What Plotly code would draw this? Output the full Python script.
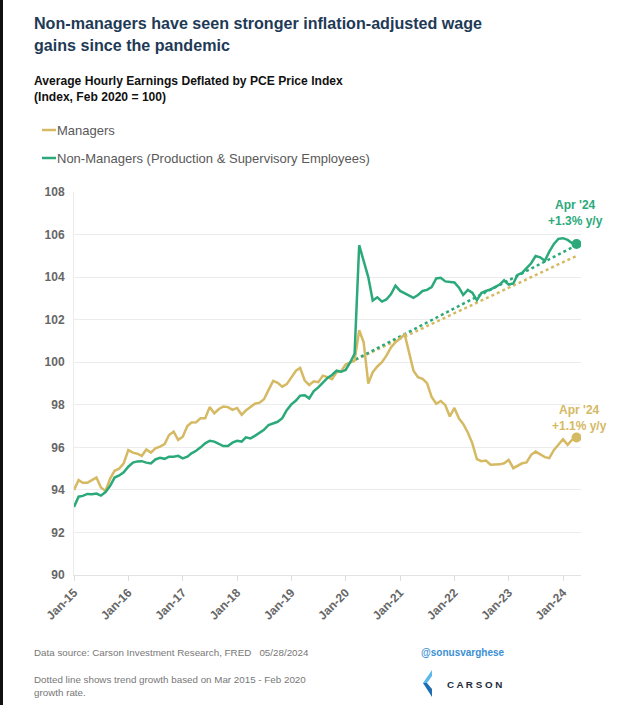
import pandas as pd
import plotly.graph_objects as go

# ---------------- data ----------------
start_month = "2015-01-01"
managers = [
    94.00, 94.46, 94.33, 94.33, 94.46, 94.58, 94.11, 93.95, 94.53, 94.90, 95.00, 95.25,
    95.87, 95.75, 95.70, 95.60, 95.90, 95.75, 95.95, 96.03, 96.15, 96.58, 96.74, 96.35,
    96.50, 97.00, 97.17, 97.18, 97.37, 97.37, 97.89, 97.60, 97.80, 97.92, 97.89, 97.76,
    97.85, 97.53, 97.73, 97.89, 98.05, 98.10, 98.26, 98.70, 99.12, 99.03, 98.85, 98.97,
    99.28, 99.60, 99.73, 99.14, 98.93, 99.10, 99.06, 99.37, 99.30, 99.20, 99.53, 99.58,
    99.89, 100.00, 100.08, 101.50, 100.94, 99.00, 99.53, 99.80, 100.00, 100.31, 100.70, 100.94,
    101.10, 101.30, 100.50, 99.60, 99.30, 99.22, 99.02, 98.37, 98.05, 98.18, 97.98, 97.45,
    97.85, 97.35, 97.10, 96.70, 96.20, 95.45, 95.35, 95.38, 95.18, 95.18, 95.20, 95.25,
    95.41, 95.02, 95.13, 95.25, 95.29, 95.65, 95.80, 95.65, 95.54, 95.49, 95.88, 96.12,
    96.38, 96.12, 96.35, 96.46,
]
non_managers = [
    93.20, 93.68, 93.72, 93.81, 93.80, 93.83, 93.73, 93.90, 94.19, 94.58, 94.68, 94.83,
    95.09, 95.28, 95.34, 95.35, 95.28, 95.24, 95.43, 95.51, 95.46, 95.56, 95.56, 95.60,
    95.48, 95.56, 95.72, 95.84, 96.00, 96.19, 96.31, 96.27, 96.16, 96.06, 96.06, 96.22,
    96.31, 96.27, 96.47, 96.42, 96.54, 96.69, 96.82, 97.05, 97.13, 97.20, 97.37, 97.75,
    98.02, 98.20, 98.43, 98.45, 98.30, 98.64, 98.82, 99.06, 99.26, 99.40, 99.60, 99.55,
    99.64, 100.00, 100.40, 105.50, 104.70, 104.00, 102.90, 103.05, 102.85, 102.95, 103.20, 103.60,
    103.35, 103.25, 103.15, 103.03, 103.16, 103.35, 103.40, 103.53, 103.94, 103.97, 103.80, 103.76,
    103.75, 103.50, 103.16, 103.40, 103.27, 102.92, 103.25, 103.35, 103.42, 103.53, 103.65, 103.85,
    103.65, 103.70, 104.10, 104.20, 104.40, 104.65, 104.99, 104.93, 104.77, 105.20, 105.56, 105.80,
    105.83, 105.75, 105.60, 105.56,
]
trend_dates = ["2020-02-01", "2024-04-01"]
trend_managers = [100.0, 105.0]
trend_non_managers = [100.0, 105.5]
y_ticks = [90, 92, 94, 96, 98, 100, 102, 104, 106, 108]
series_names = ["Managers", "Non-Managers (Production & Supervisory Employees)"]
end_labels = ["Apr '24<br>+1.1% y/y", "Apr '24<br>+1.3% y/y"]

dates = pd.date_range(start_month, periods=len(managers), freq="MS")

GOLD = "#D5B963"
GREEN = "#2BA97A"
GRAY_TXT = "#666666"
FONT = "Liberation Sans, Arial, sans-serif"

# plot area in pixels
L, R, T, B = 74, 581, 192, 575
W, H = R - L, B - T


def px(x):
    return (x - L) / W


def py(y):
    return (B - y) / H


fig = go.Figure()

# trend lines (dotted)
fig.add_trace(go.Scatter(x=trend_dates, y=trend_managers, mode="lines",
                         line=dict(color=GOLD, width=2.5, dash="dot"),
                         showlegend=False, hoverinfo="skip"))
fig.add_trace(go.Scatter(x=trend_dates, y=trend_non_managers, mode="lines",
                         line=dict(color=GREEN, width=2.5, dash="dot"),
                         showlegend=False, hoverinfo="skip"))

# main series
fig.add_trace(go.Scatter(x=dates, y=managers, mode="lines", name=series_names[0],
                         line=dict(color=GOLD, width=2.5), showlegend=False))
fig.add_trace(go.Scatter(x=dates, y=non_managers, mode="lines", name=series_names[1],
                         line=dict(color=GREEN, width=2.5), showlegend=False))

# end markers
fig.add_trace(go.Scatter(x=[dates[-1]], y=[managers[-1]], mode="markers",
                         marker=dict(color=GOLD, size=10), showlegend=False))
fig.add_trace(go.Scatter(x=[dates[-1]], y=[non_managers[-1]], mode="markers",
                         marker=dict(color=GREEN, size=10), showlegend=False))

annotations = []


def add_text(text, x, y, size, color, bold=False, xanchor="left", align="left"):
    annotations.append(dict(
        text=f"<b>{text}</b>" if bold else text,
        x=px(x), y=py(y), xref="paper", yref="paper",
        xanchor=xanchor, yanchor="middle", align=align, showarrow=False,
        font=dict(family=FONT, size=size, color=color)))


# titles
add_text("Non-managers have seen stronger inflation-adjusted wage", 32, 23, 16.1, "#1E3A56", bold=True)
add_text("gains since the pandemic", 32, 45, 16.1, "#1E3A56", bold=True)
add_text("Average Hourly Earnings Deflated by PCE Price Index", 32, 81, 12.1, "#111111", bold=True)
add_text("(Index, Feb 2020 = 100)", 32, 97, 12.1, "#111111", bold=True)

# legend (as text + line swatches)
add_text(series_names[0], 55, 130, 13, "#595959")
add_text(series_names[1], 55, 158, 13, "#595959")

# end labels
annotations.append(dict(text=f"<b>{end_labels[1]}</b>", x=dates[-1], y=107.0, xref="x", yref="y",
                        xanchor="center", yanchor="middle", showarrow=False, align="center",
                        xshift=-1,
                        font=dict(family=FONT, size=12, color=GREEN)))
annotations.append(dict(text=f"<b>{end_labels[0]}</b>", x=dates[-1], y=97.38, xref="x", yref="y",
                        xanchor="center", yanchor="middle", showarrow=False, align="center",
                        xshift=3,
                        font=dict(family=FONT, size=12, color=GOLD)))

# footer
add_text("Data source: Carson Investment Research, FRED   05/28/2024", 32, 652, 9.8, "#777777")
add_text("Dotted line shows trend growth based on Mar 2015 - Feb 2020", 32, 679, 9.8, "#777777")
add_text("growth rate.", 32, 692, 9.8, "#777777")
add_text("@sonusvarghese", 507, 652, 10, "#3B8FD4", bold=True, xanchor="right")
annotations.append(dict(text="<b>C A R S O N</b>", x=px(504), y=py(684), xref="paper", yref="paper",
                        xanchor="right", yanchor="middle", showarrow=False,
                        font=dict(family=FONT, size=9.8, color="#1E2A3A")))


# logo chevron, legend swatches and left border
def path_px(pts):
    return "M " + " L ".join(f"{px(a)},{py(b)}" for a, b in pts) + " Z"


shapes = [
    dict(type="path", xref="paper", yref="paper",
         path=path_px([(432, 670), (423, 683), (427, 683), (432, 676)]),
         fillcolor="#5DB8EA", line=dict(width=0)),
    dict(type="path", xref="paper", yref="paper",
         path=path_px([(423, 683), (432, 697), (432, 689), (427, 683)]),
         fillcolor="#1F6EB3", line=dict(width=0)),
    dict(type="rect", xref="paper", yref="paper", x0=px(0), x1=px(3), y0=py(0), y1=py(705),
         fillcolor="#111111", line=dict(width=0)),
    dict(type="line", xref="paper", yref="paper", x0=px(42), x1=px(56), y0=py(130), y1=py(130),
         line=dict(color=GOLD, width=2.5)),
    dict(type="line", xref="paper", yref="paper", x0=px(42), x1=px(56), y0=py(158), y1=py(158),
         line=dict(color=GREEN, width=2.5)),
]

fig.update_layout(
    width=640, height=705,
    margin=dict(l=L, r=640 - R, t=T, b=705 - B),
    paper_bgcolor="white", plot_bgcolor="white",
    showlegend=False,
    annotations=annotations,
    shapes=shapes,
    font=dict(family=FONT),
)
fig.update_xaxes(
    range=["2015-01-01", "2024-05-01"],
    tick0="2015-01-01", dtick="M12", tickformat="%b-%y",
    tickangle=-45, ticks="outside", ticklen=5, tickcolor="#dddddd",
    tickfont=dict(family=FONT, size=12, color=GRAY_TXT, weight="bold"),
    showgrid=False, showline=True, linecolor="#e3e3e3", linewidth=1,
    zeroline=False,
)
fig.update_yaxes(
    range=[90, 108], tickvals=y_ticks,
    tickfont=dict(family=FONT, size=12, color=GRAY_TXT, weight="bold"),
    showgrid=True, gridcolor="#ececec", gridwidth=1,
    showline=True, linecolor="#ececec", linewidth=1,
    zeroline=False, ticks="", ticklen=0, ticklabelstandoff=6,
)

fig.write_html("out.html", config={"displayModeBar": False},
               post_script="document.body.style.margin='0';")
